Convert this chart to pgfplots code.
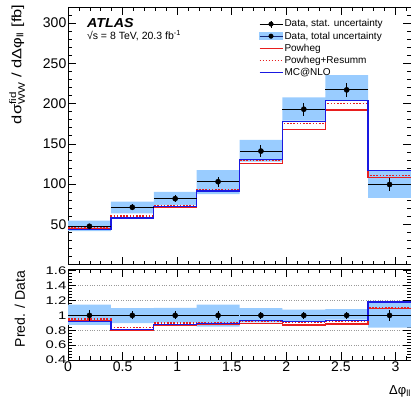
\documentclass[border=0pt]{standalone}
\usepackage{fontspec}
\setmainfont{Liberation Sans}
\usepackage{amsmath}
\usepackage{graphicx}
\usepackage{pgfplots}
\pgfplotsset{compat=1.18}
\usepgfplotslibrary{fillbetween}
\usepackage{pgfplotstable}

\definecolor{band}{RGB}{153,204,255}
\definecolor{pred1}{RGB}{232,30,30}
\definecolor{mcnlo}{RGB}{25,25,225}
\definecolor{bandline}{RGB}{20,40,120}

\pgfplotstableread{
x      lo    hi    pw    pr    mc    rlo   rhi   rpw   rpr   rmc
0      41.5  54.5  44.5  45.5  43.8  0.872 1.145 0.925 0.950 0.915
0.3927 63.7  78.1  57.5  60.4  58.0  0.895 1.097 0.803 0.835 0.812
0.7854 74.0  90.2  71.2  73.7  72.4  0.904 1.101 0.866 0.895 0.880
1.1781 87.5  117.5 90.6  93.5  91.4  0.850 1.145 0.880 0.908 0.893
1.5708 127.8 154.8 125.8 130.0 130.8 0.906 1.098 0.892 0.922 0.928
1.9635 178.8 207.8 168.0 175.0 177.5 0.926 1.077 0.870 0.903 0.915
2.3562 204.5 235.5 192.0 200.4 203.6 0.942 1.085 0.885 0.922 0.935
2.7489 83.0  117.5 108.4 110.4 116.7 0.834 1.181 1.089 1.110 1.180
3.1416 83.0  117.5 108.4 110.4 116.7 0.834 1.181 1.089 1.110 1.180
}\steps

\pgfplotstableread{
c      hw     d     stat r rstat
0.1963 0.1963 47.6  3.3  1 0.075
0.5890 0.1963 71.2  3.5  1 0.055
0.9817 0.1963 81.9  4.0  1 0.055
1.3744 0.1963 103.0 6.0  1 0.060
1.7671 0.1963 141.0 7.0  1 0.050
2.1598 0.1963 193.0 8.0  1 0.045
2.5525 0.1963 217.0 9.0  1 0.045
2.9452 0.1963 99.5  7.5  1 0.075
}\points

\pgfplotsset{
  atlas/.style={
    scale only axis, width=343pt,
    xmin=0, xmax=3.1416,
    tick align=inside,
    major tick length=8pt, minor tick length=4pt,
    every tick/.style={black, line width=0.6pt},
    axis line style={line width=0.7pt},
    xtick={0,0.5,...,3},
    minor xtick={0.1,0.2,0.3,0.4,0.6,0.7,0.8,0.9,1.1,1.2,1.3,1.4,1.6,1.7,1.8,1.9,2.1,2.2,2.3,2.4,2.6,2.7,2.8,2.9,3.1},
    /pgf/number format/assume math mode=true,
    ticklabel style={font=\fontsize{14}{14}\selectfont},
  },
  dataerr/.style={only marks, mark=*, mark size=2.6pt, black,
    error bars/x dir=both, error bars/x explicit, error bars/y dir=both, error bars/y explicit,
    error bars/error mark=none, error bars/error bar style={line width=0.9pt, black}},
}

\begin{document}
\begin{tikzpicture}

% ---------- main panel ----------
\begin{axis}[atlas,
  at={(68pt,138.4pt)}, anchor=south west,
  height=257.6pt,
  ymin=0, ymax=320,
  ytick={50,100,...,300},
  minor ytick={10,20,30,40,60,70,80,90,110,120,130,140,160,170,180,190,210,220,230,240,260,270,280,290,310},
  xticklabels={},
  yticklabel style={inner sep=1.5pt},
  ylabel={\scalebox{1.22}[1]{dσ$^{\text{fid}}_{\text{WW}}$ / dΔφ$_{\text{ll}}$ [fb]}},
  ylabel style={at={(axis description cs:-0.125,1.01)}, anchor=south east, font=\fontsize{13.5}{13.5}\selectfont, inner sep=0pt},
  legend style={at={(axis description cs:0.556,0.957)}, anchor=north west, draw=none, fill=none,
    font=\fontsize{10}{10.5}\selectfont, row sep=0.6pt, inner sep=0pt,
    nodes={inner sep=1.4pt}},
  legend cell align=left,
]
\addlegendimage{legend image code/.code={
  \draw[black, line width=0.8pt] (0pt,0pt) -- (23pt,0pt);
  \draw[black, line width=0.8pt] (11.5pt,-3.5pt) -- (11.5pt,3.5pt);
  \fill[black] (11.5pt,0pt) circle (2.3pt);}}
\addlegendentry{Data, stat. uncertainty}
\addlegendimage{legend image code/.code={
  \fill[band] (0pt,-3.5pt) rectangle (23pt,3.5pt);
  \draw[bandline, line width=0.8pt] (0pt,0pt) -- (23pt,0pt);
  \fill[black] (11.5pt,0pt) circle (2.3pt);}}
\addlegendentry{Data, total uncertainty}
\addlegendimage{legend image code/.code={
  \draw[pred1, line width=1.2pt] (0pt,0pt) -- (23pt,0pt);}}
\addlegendentry{Powheg}
\addlegendimage{legend image code/.code={
  \draw[pred1, line width=1.2pt, dash pattern=on 1.5pt off 1.5pt] (0pt,0pt) -- (23pt,0pt);}}
\addlegendentry{Powheg+Resumm}
\addlegendimage{legend image code/.code={
  \draw[mcnlo, line width=1.2pt] (0pt,0pt) -- (23pt,0pt);}}
\addlegendentry{MC@NLO}

\addplot[const plot, draw=none, name path=mhi, forget plot] table[x=x, y=hi] {\steps};
\addplot[const plot, draw=none, name path=mlo, forget plot] table[x=x, y=lo] {\steps};
\addplot[band, forget plot] fill between[of=mhi and mlo];

\addplot[const plot, pred1, line width=1.4pt, forget plot] table[x=x, y=pw] {\steps};
\addplot[const plot, pred1, line width=1.4pt, dash pattern=on 1.6pt off 1.6pt, forget plot] table[x=x, y=pr] {\steps};
\addplot[const plot, mcnlo, line width=1.4pt, forget plot] table[x=x, y=mc] {\steps};

\addplot[forget plot, dataerr] table[x=c, y=d, x error=hw, y error=stat] {\points};

\node[anchor=west, font=\bfseries\itshape\fontsize{13}{13}\selectfont, inner sep=0pt] at (axis description cs:0.055,0.939) {\scalebox{1.1}[1]{ATLAS}};
\node[anchor=west, font=\fontsize{10.5}{10.5}\selectfont, inner sep=0pt] at (axis description cs:0.055,0.890) {√s = 8 TeV, 20.3 fb\textsuperscript{-1}};
\end{axis}

% ---------- ratio panel ----------
\begin{axis}[atlas,
  at={(68pt,43pt)}, anchor=south west,
  height=90.7pt,
  ymin=0.4, ymax=1.62,
  ytick={0.4,0.6,...,1.61},
  minor ytick={0.44,0.48,0.52,0.56,0.64,0.68,0.72,0.76,0.84,0.88,0.92,0.96,1.04,1.08,1.12,1.16,1.24,1.28,1.32,1.36,1.44,1.48,1.52,1.56},
  yticklabel={\scalebox{1.35}[1]{\pgfmathprintnumber{\tick}}},
  yticklabel style={font=\fontsize{11}{11}\selectfont, inner sep=1.5pt},
  xticklabel style={inner sep=1pt, yshift=-1pt},
  extra y ticks={0.6,0.8,1.2,1.4},
  extra y tick labels={},
  extra y tick style={major tick length=0pt, grid=major, major grid style={gray!80, dotted, line width=0.7pt}},
  ylabel={Pred. / Data},
  ylabel style={at={(axis description cs:-0.125,0.56)}, anchor=south, font=\fontsize{14}{14}\selectfont, inner sep=0pt},
  xlabel={Δφ$_{\text{ll}}$},
  xlabel style={at={(axis description cs:1,0)}, anchor=north east, font=\fontsize{13}{13}\selectfont, yshift=-25pt, inner sep=0pt},
]
\addplot[const plot, draw=none, name path=rhi] table[x=x, y=rhi] {\steps};
\addplot[const plot, draw=none, name path=rlo] table[x=x, y=rlo] {\steps};
\addplot[band] fill between[of=rhi and rlo];

\addplot[const plot, pred1, line width=1.4pt] table[x=x, y=rpw] {\steps};
\addplot[const plot, pred1, line width=1.4pt, dash pattern=on 1.6pt off 1.6pt] table[x=x, y=rpr] {\steps};
\addplot[const plot, mcnlo, line width=1.4pt] table[x=x, y=rmc] {\steps};

\addplot[dataerr] table[x=c, y=r, x error=hw, y error=rstat] {\points};
\end{axis}
\pgfresetboundingbox
\path[use as bounding box] (0pt,0pt) rectangle (411pt,403pt);
\end{tikzpicture}
\end{document}
